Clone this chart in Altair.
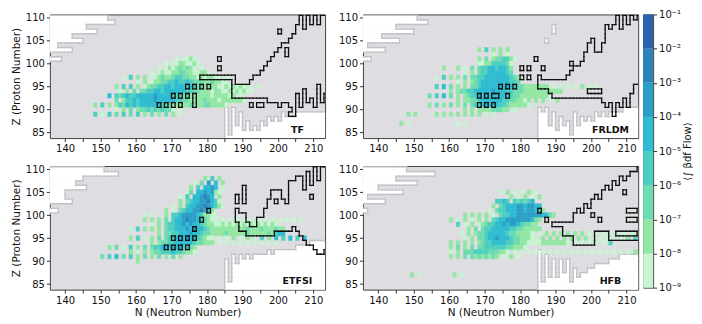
import altair as alt
import pandas as pd

# ---------------- axes / scale data ----------------
N_DOMAIN = [135.7, 213.3]
Z_DOMAIN = [83.8, 110.7]
X_TICKS = list(range(140, 211, 5))
Y_TICKS = list(range(85, 111, 5))
LEVEL_COLORS = ["#c8f5d1", "#92e8a3", "#6edcb1", "#4ccfc0", "#2dbcd2",
                "#2a9fc7", "#2b84b9", "#2a62ad"]
CB_EXPONENTS = [-9, -8, -7, -6, -5, -4, -3, -2, -1]
CB_LABELS = ["10⁻⁹", "10⁻⁸", "10⁻⁷", "10⁻⁶", "10⁻⁵", "10⁻⁴", "10⁻³", "10⁻²", "10⁻¹"]
LABEL_POS = [205.5, 85.6]

# ---------------- TF ----------------
TF_FLOW = {
    101: (171, "1.1121"),
    100: (168, "1.11221121"),
    99: (166, "1.121232321.1"),
    98: (164, "1.121122332211221"),
    97: (156, "1.4.2.2.11232234433221212211.1"),
    96: (160, "1.2.1223344544543332232211"),
    95: (154, "2.4.4.2.12334455455545433222211212121.1.1"),
    94: (155, "1.2.3.33445545555554433222122112121211"),
    93: (152, "5.4345445555565555443332222221222212.1"),
    92: (154, "3.24454555565555544332222322212222221"),
    91: (148, "2.4.2.24354545555554432222232223322221"),
    90: (154, "1.2.3.23343434331.1"),
    89: (148, "4.1.4.3.4.3.4.2.3.2.3.2.1"),
}
TF_PWHITE = {110: 152, 109: 154, 108: 146, 107: 149, 106: 142, 105: 145,
             104: 138, 103: 142, 101: 139}
TF_WHITE_EXTRA = []
TF_NWHITE = {185: 90, 186: 84, 187: 90, 188: 86, 189: 89, 190: 85, 191: 87,
             192: 85, 193: 86, 194: 85, 195: 87, 196: 86, 197: 88, 198: 87,
             199: 88, 200: 87, 201: 89, 202: 88, 203: 88, 204: 88, 205: 89,
             206: 89, 207: 89, 208: 89, 209: 89, 210: 89, 211: 89, 212: 89, 213: 89}
TF_REGION = {178: (97, 97), 179: (97, 97), 180: (97, 97), 181: (97, 97),
             182: (97, 97), 183: (97, 97), 184: (97, 97), 185: (97, 97),
             186: (97, 97), 187: (93, 97), 188: (93, 95), 189: (93, 95),
             190: (93, 95), 191: (93, 95), 192: (93, 96), 193: (93, 97),
             194: (93, 97), 195: (93, 98), 196: (93, 99), 197: (92, 100),
             198: (92, 101), 199: (92, 102), 200: (91, 103), 201: (92, 104),
             202: (92, 104), 203: (91, 105), 204: (90, 106), 205: (94, 108),
             206: (91, 110), 207: (95, 107), 208: (92, 110), 209: (93, 108),
             210: (91, 110), 211: (96, 108), 212: (92, 110), 213: (94, 110)}
TF_HOLES = [(202, 102), (202, 103)]
TF_BOXES = [(166, 91), (168, 91), (170, 91), (172, 91), (170, 93), (172, 93),
            (174, 93), (176, 91), (176, 92), (176, 93), (174, 95), (176, 95),
            (178, 95), (180, 95), (183, 99), (183, 101), (200, 107),
            (192, 91), (194, 91), (195, 91), (203, 89), (204, 89)]

# ---------------- FRLDM ----------------
FR_FLOW = {
    103: (168, "2.4.2.2.2"),
    102: (172, "1.2.1"),
    101: (168, "2.3.2334421"),
    100: (168, "1122444431"),
    99: (158, "2...2.1.3.3445545542"),
    98: (164, "1.2.3445555543"),
    97: (156, "1.4.2.2.3.33445555555432"),
    96: (162, "1.2.23455555555443"),
    95: (156, "4.5.3.2.2.3345555555554332222222.1.1.1.1.2.1.1"),
    94: (160, "2.233445555565554433322222222222"),
    93: (154, "3.4.5.3.2.2344555555554433222222221"),
    92: (162, "2.2233455555544332212.2.2.1.2"),
    91: (154, "2.3.2.3.2.3.34455555443222221"),
    90: (164, "2.2.222233322.1"),
    89: (148, "2.2.....2.2.2.2.2.2.2.1.1"),
    87: (146, "2.1.............1.1"),
}
FR_PWHITE = {110: 151, 109: 154, 108: 145, 107: 150, 106: 141, 105: 146,
             104: 137, 103: 142, 101: 138}
FR_WHITE_EXTRA = [(189, 107), (189, 108), (187, 105)]
FR_NWHITE = {185: 90, 186: 89, 187: 90, 188: 86, 189: 89, 190: 85, 191: 88,
             192: 86, 193: 87, 194: 84, 195: 89, 196: 86, 197: 88, 198: 87,
             199: 88, 200: 87, 201: 89, 202: 88, 203: 89, 204: 88, 205: 89,
             206: 89, 207: 89, 208: 89, 209: 90, 210: 90, 211: 90, 212: 90, 213: 90}
FR_REGION = {185: (95, 97), 186: (95, 96), 187: (95, 96), 188: (94, 96),
             189: (93, 96), 190: (93, 96), 191: (93, 96), 192: (93, 96),
             193: (93, 97), 194: (93, 98), 195: (93, 99), 196: (93, 99),
             197: (93, 100), 198: (93, 102), 199: (93, 104), 200: (93, 105),
             201: (93, 102), 202: (93, 102), 203: (92, 104), 204: (91, 108),
             205: (92, 107), 206: (90, 108), 207: (92, 110), 208: (91, 107),
             209: (93, 110), 210: (91, 108), 211: (94, 110), 212: (96, 109),
             213: (96, 110)}
FR_HOLES = [(199, 94), (200, 94), (201, 94), (202, 94)]
FR_BOXES = [(168, 93), (170, 93), (172, 93), (173, 93), (176, 93),
            (168, 91), (170, 91), (172, 91), (174, 95), (176, 95), (178, 95),
            (180, 97), (182, 97), (180, 99), (182, 99), (184, 101), (186, 99),
            (194, 100), (206, 89)]

# ---------------- ETFSI ----------------
ET_FLOW = {
    108: (179, "2.4.2"),
    107: (176, "1.3.6.5.2"),
    106: (175, "2.4.5565.1"),
    105: (174, "13.5565621"),
    104: (172, "1.4.556765.2"),
    103: (172, "2.3455667541"),
    102: (170, "1.2.45566765421"),
    101: (168, "2.1.3455667652"),
    100: (162, "1.1...2.4456666542211"),
    99: (162, "2.2.2.3.4556766543211.1.1.1.1.1.1.1.1.1.1.1.1"),
    98: (164, "1.2.34455656554322112121212121212121"),
    97: (158, "1.4.2.2.2.3445556565543222222222232223222322"),
    96: (166, "2.3344555655433222232222232222232455"),
    95: (158, "2.4.1.2.3.34455565543211.1.1.2.1.2.1.4.2.5.4.5.4.5"),
    94: (164, "2.2334455555433222.1.1.1.1.1.1.1.1.1"),
    93: (152, "2.3.1.4.2.3.3445555554432"),
    92: (158, "2.1.2.2334445443221"),
    91: (150, "3.4.5.3.4.2.3.2.3.2.3.2"),
    90: (160, "2"),
}
ET_PWHITE = {110: 151, 109: 155, 108: 145, 107: 143, 106: 146, 105: 140,
             104: 140, 103: 142, 101: 138}
ET_WHITE_EXTRA = []
ET_NWHITE = {185: 90, 186: 85, 187: 91, 188: 89, 189: 91, 190: 90, 191: 91,
             192: 90, 193: 91, 194: 91, 195: 91, 196: 91, 197: 92, 198: 91,
             199: 92, 200: 92, 201: 92, 202: 92, 203: 92, 204: 92, 205: 93,
             206: 93, 207: 93, 208: 93, 209: 94, 210: 94, 211: 94, 212: 94, 213: 94}
ET_REGION = {188: (99, 101), 189: (97, 100), 190: (97, 100), 191: (96, 98),
             192: (96, 97), 193: (96, 97), 194: (96, 99), 195: (96, 99),
             196: (96, 101), 197: (96, 103), 198: (96, 105), 199: (97, 105),
             200: (97, 105), 201: (97, 103), 202: (97, 102), 203: (97, 107),
             204: (98, 107), 205: (97, 108), 206: (96, 108), 207: (95, 105),
             208: (94, 109), 209: (94, 106), 210: (93, 110), 211: (92, 107),
             212: (92, 110), 213: (93, 110)}
ET_HOLES = [(199, 103), (209, 104)]
ET_BOXES = [(168, 93), (170, 93), (172, 93), (174, 93), (170, 95), (172, 95),
            (174, 95), (176, 95), (176, 97), (178, 99), (180, 101),
            (188, 103), (188, 104), (190, 103), (190, 104), (190, 105), (190, 106)]

# ---------------- HFB ----------------
HF_FLOW = {
    105: (174, "1.2.1.1.2.1"),
    104: (177, "2.1.2.1.2"),
    103: (173, "4454.434345"),
    102: (172, "2.345556656655"),
    101: (171, "1.34455566566542"),
    100: (164, "2.2.2.2.1.3445566666665532"),
    99: (160, "2.1.2.1.2.2.34556666666532"),
    98: (162, "4.1.2.12344556566543322"),
    97: (165, "2.3.34455555443322222"),
    96: (163, "1.2.23345555543322221.1.2.2.2.2.2.2.1.1.1.1.1.1.1.2.5"),
    95: (164, "1.2.33455655543322211.2.2.2.2.2.2.2.1.1.1.1.1.2.4.5.4"),
    94: (160, "2.2.2.2.23445555443322111122222221.1.1.1.1.1.4"),
    93: (160, "2.3.2.3.33444444332221"),
    92: (160, "1.2.3334444333221.1.1.1.1.1.1.1.1.1.1.1.1.1.1.1.1.1.2.2"),
    91: (160, "2.2.3.32323232.1.2.1"),
    87: (149, "2.1.........2.1"),
}
HF_PWHITE = {110: 148, 109: 156, 108: 145, 107: 151, 106: 140, 105: 147,
             104: 137, 103: 142, 101: 137}
HF_WHITE_EXTRA = []
HF_NWHITE = {185: 92, 186: 85, 187: 91, 188: 86, 189: 90, 190: 86, 191: 90,
             192: 87, 193: 90, 194: 85, 195: 88, 196: 86, 197: 87, 198: 87,
             199: 88, 200: 88, 201: 89, 202: 89, 203: 89, 204: 89, 205: 90,
             206: 90, 207: 90, 208: 91, 209: 91, 210: 91, 211: 91, 212: 91, 213: 91}
HF_REGION = {189: (98, 98), 190: (98, 98), 191: (98, 98), 192: (96, 98),
             193: (96, 98), 194: (96, 98), 195: (94, 100), 196: (94, 101),
             197: (94, 100), 198: (94, 102), 199: (94, 101), 200: (94, 103),
             201: (97, 104), 202: (97, 103), 203: (97, 105), 204: (97, 106),
             205: (95, 105), 206: (95, 107), 207: (95, 106), 208: (95, 108),
             209: (95, 107), 210: (95, 108), 211: (95, 109), 212: (95, 109),
             213: (95, 110)}
HF_HOLES = [(200, 100), (202, 99), (209, 105), (210, 101), (211, 101), (212, 101),
            (210, 99), (211, 99), (212, 99), (207, 96), (208, 96), (209, 96),
            (210, 96), (211, 96), (212, 96)]
HF_BOXES = [(185, 101), (187, 99)]

PANELS = [
    ("TF", TF_FLOW, TF_PWHITE, TF_WHITE_EXTRA, TF_NWHITE, TF_REGION, TF_HOLES, TF_BOXES),
    ("FRLDM", FR_FLOW, FR_PWHITE, FR_WHITE_EXTRA, FR_NWHITE, FR_REGION, FR_HOLES, FR_BOXES),
    ("ETFSI", ET_FLOW, ET_PWHITE, ET_WHITE_EXTRA, ET_NWHITE, ET_REGION, ET_HOLES, ET_BOXES),
    ("HFB", HF_FLOW, HF_PWHITE, HF_WHITE_EXTRA, HF_NWHITE, HF_REGION, HF_HOLES, HF_BOXES),
]

FONT = "DejaVu Sans"
GRAY_BG = "#dddde2"


def boundary(cells):
    segs = []
    for (n, z) in cells:
        if (n - 1, z) not in cells:
            segs.append(dict(x=n, x2=n, y=z - 0.5, y2=z + 0.5))
        if (n + 1, z) not in cells:
            segs.append(dict(x=n + 1, x2=n + 1, y=z - 0.5, y2=z + 0.5))
        if (n, z - 1) not in cells:
            segs.append(dict(x=n, x2=n + 1, y=z - 0.5, y2=z - 0.5))
        if (n, z + 1) not in cells:
            segs.append(dict(x=n, x2=n + 1, y=z + 0.5, y2=z + 0.5))
    return pd.DataFrame(segs)


def runs(cells):
    """merge cells of one Z row into horizontal runs (avoids hairline seams)"""
    out = []
    for z in sorted({c[1] for c in cells}):
        ns = sorted(n for (n, zz) in cells if zz == z)
        start = prev = ns[0]
        for n in ns[1:]:
            if n != prev + 1:
                out.append(dict(x=start, x2=prev + 1, y=z - 0.5, y2=z + 0.5))
                start = n
            prev = n
        out.append(dict(x=start, x2=prev + 1, y=z - 0.5, y2=z + 0.5))
    return pd.DataFrame(out)


def build_panel(name, flow, pwhite, wextra, nwhite, region, holes, boxes, show_xt, show_yt):
    flow_rows = []
    for z, (n0, s) in flow.items():
        for k, ch in enumerate(s):
            if ch != ".":
                n = n0 + k
                flow_rows.append(dict(x=n, x2=n + 1, y=z - 0.5, y2=z + 0.5, level=int(ch)))
    flow_df = pd.DataFrame(flow_rows)

    white = set()
    for z, nedge in pwhite.items():
        for n in range(130, nedge):
            white.add((n, z))
    for n, ztop in nwhite.items():
        for z in range(80, ztop + 1):
            white.add((n, z))
    for c in wextra:
        white.add(c)
    white_df = runs(white)
    white_edges = boundary(white)

    inside = set()
    for n, (lo, hi) in region.items():
        for z in range(lo, hi + 1):
            inside.add((n, z))
    for c in holes:
        inside.discard(c)
    for c in boxes:
        inside.add(c)
    black_edges = boundary(inside)

    xaxis = dict(values=X_TICKS, labelExpr="datum.value % 10 == 0 ? datum.label : ''",
                 grid=False, tickSize=3.5, labelPadding=2)
    if show_xt:
        xaxis["title"] = "N (Neutron Number)"
        xaxis["titlePadding"] = 2
    else:
        xaxis["title"] = None
    yaxis = dict(values=Y_TICKS, grid=False, tickSize=3.5, labelPadding=2)
    if show_yt:
        yaxis["title"] = "Z (Proton Number)"
        yaxis["titlePadding"] = 4
    else:
        yaxis["title"] = None

    X = alt.X("x:Q", scale=alt.Scale(domain=N_DOMAIN, nice=False, zero=False),
              axis=alt.Axis(**xaxis))
    Y = alt.Y("y:Q", scale=alt.Scale(domain=Z_DOMAIN, nice=False, zero=False),
              axis=alt.Axis(**yaxis))
    level_scale = alt.Scale(domain=list(range(1, 9)), range=LEVEL_COLORS)

    white_layer = alt.Chart(white_df).mark_rect(
        clip=True, fill="white", stroke="white", strokeWidth=0.6).encode(
        x=X, x2="x2:Q", y=Y, y2="y2:Q")
    wedge_layer = alt.Chart(white_edges).mark_rule(
        clip=True, color="#c3c3c7", strokeWidth=1.4, strokeCap="square").encode(
        x=X, x2="x2:Q", y=Y, y2="y2:Q")
    flow_layer = alt.Chart(flow_df).mark_rect(clip=True, strokeWidth=0.4).encode(
        x=X, x2="x2:Q", y=Y, y2="y2:Q",
        color=alt.Color("level:O", scale=level_scale, legend=None),
        stroke=alt.Stroke("level:O", scale=level_scale, legend=None))
    bedge_layer = alt.Chart(black_edges).mark_rule(
        clip=True, color="#111111", strokeWidth=1.3, strokeCap="square").encode(
        x=X, x2="x2:Q", y=Y, y2="y2:Q")
    label_df = pd.DataFrame([dict(x=LABEL_POS[0], y=LABEL_POS[1], t=name)])
    text_layer = alt.Chart(label_df).mark_text(
        font=FONT, fontSize=9.5, fontWeight="bold", color="#111111", align="center",
        baseline="middle").encode(x=X, y=Y, text="t:N")
    return alt.layer(white_layer, wedge_layer, flow_layer, bedge_layer, text_layer).properties(
        width=276, height=124)


p = [build_panel(*PANELS[0], False, True), build_panel(*PANELS[1], False, False),
     build_panel(*PANELS[2], True, True), build_panel(*PANELS[3], True, False)]

cb_df = pd.DataFrame(dict(lo=CB_EXPONENTS[:-1], hi=CB_EXPONENTS[1:],
                          level=list(range(1, 9))))
label_expr = "[" + ",".join("'%s'" % s for s in CB_LABELS) + "][datum.value + 9]"
cbar = alt.Chart(cb_df).mark_rect(strokeWidth=0).encode(
    x=alt.value(0), x2=alt.value(10),
    y=alt.Y("lo:Q", scale=alt.Scale(domain=[-9, -1], nice=False, zero=False),
            axis=alt.Axis(orient="right", values=CB_EXPONENTS, labelExpr=label_expr,
                          title="⟨∫ βdf  Flow⟩", titleAngle=270, titlePadding=12,
                          titleFontSize=10, tickSize=3.5, labelPadding=2, grid=False)),
    y2="hi:Q",
    color=alt.Color("level:O", scale=alt.Scale(domain=list(range(1, 9)), range=LEVEL_COLORS),
                    legend=None),
).properties(width=10, height=274)

top = alt.hconcat(p[0], p[1], spacing=11)
bot = alt.hconcat(p[2], p[3], spacing=11)
left = alt.vconcat(top, bot, spacing=9)
chart = alt.hconcat(left, cbar, spacing=3).properties(
    padding={"left": 2, "top": 0, "right": 0, "bottom": 0}
).configure_view(stroke="#444444", strokeWidth=1, fill=GRAY_BG).configure_axis(
    labelFont=FONT, titleFont=FONT, labelFontSize=10, titleFontSize=10.5,
    labelColor="#111111", titleColor="#111111", tickColor="#333333",
    domain=False, titleFontWeight="normal"
)

chart.save("out.html", embed_options={"renderer": "svg", "actions": False})
